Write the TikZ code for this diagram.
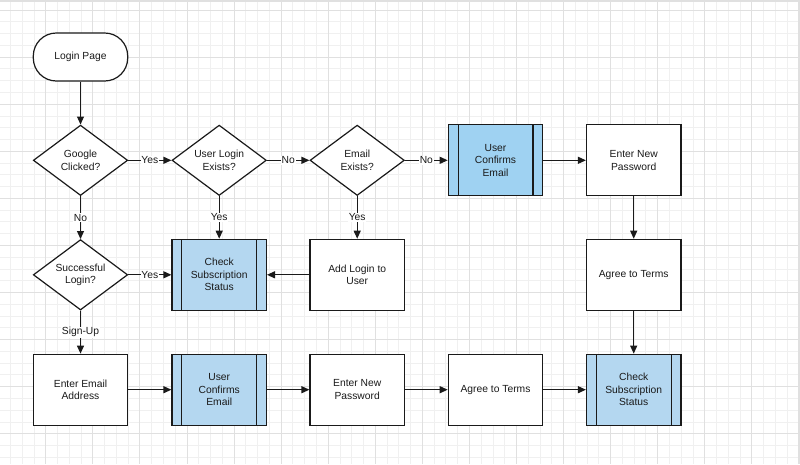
\documentclass[tikz,border=0pt]{standalone}
\usepackage{fontspec}
\setmainfont{Liberation Sans}
\usetikzlibrary{shapes.geometric,arrows.meta}
\definecolor{gridminor}{HTML}{F0F0F0}
\definecolor{gridmajor}{HTML}{E0E0E0}
\definecolor{bluetop}{HTML}{9FD2F2}
\definecolor{bluelow}{HTML}{B4D7F0}
\definecolor{ink}{HTML}{1A1A1A}
\tikzset{
  base/.style={draw=ink, line width=1.2pt, align=center, text=ink,
    font=\fontsize{10.3}{12.5}\selectfont, inner sep=0pt},
  procbox/.style={base, rectangle, minimum width=94.4pt, minimum height=71pt, fill=white},
  subproc/.style={procbox, fill=#1,
    path picture={
      \draw[ink, line width=1.2pt] ([xshift=9.8pt]path picture bounding box.north west) -- ([xshift=9.8pt]path picture bounding box.south west);
      \draw[ink, line width=1.2pt] ([xshift=-9.8pt]path picture bounding box.north east) -- ([xshift=-9.8pt]path picture bounding box.south east);
    }},
  decision/.style={base, diamond, aspect=1.34, minimum width=94.4pt, minimum height=70.4pt, fill=white},
  terminal/.style={base, rectangle, rounded corners=23pt, minimum width=94.4pt, minimum height=48pt, fill=white},
  conn/.style={draw=ink, line width=1.2pt, -{Triangle[length=8pt,width=7pt]}},
  lbl/.style={fill=white, inner sep=0.8pt, text=ink, font=\fontsize{10.3}{12}\selectfont}
}
\begin{document}
\begin{tikzpicture}[x=1pt,y=-1pt]
\useasboundingbox (0,0) rectangle (800,464);
\fill[white] (0,0) rectangle (800,464);
% grid
\foreach \i in {0,...,68} {
  \draw[gridminor, line width=0.7pt] ({-1.37+11.767*\i},0) -- ({-1.37+11.767*\i},464);
}
\foreach \i in {0,...,40} {
  \draw[gridminor, line width=0.7pt] (0,{-1.77+11.767*\i}) -- (800,{-1.77+11.767*\i});
}
\foreach \i in {0,...,16} {
  \draw[gridmajor, line width=0.8pt] ({45.7+47.07*(\i-1)},0) -- ({45.7+47.07*(\i-1)},464);
}
\foreach \i in {0,...,9} {
  \draw[gridmajor, line width=0.8pt] (0,{10+47.07*\i}) -- (800,{10+47.07*\i});
}
\draw[gridmajor, line width=1.2pt] (0,1) -- (800,1);
\draw[gridmajor, line width=1.2pt] (799,0) -- (799,464);

% nodes
\node[terminal] (login) at (80.5,57) {Login Page};
\node[decision] (gc) at (80.5,160.3) {Google\\Clicked?};
\node[decision] (ule) at (219.2,160.3) {User Login\\Exists?};
\node[decision] (ee) at (357.2,160.3) {Email\\Exists?};
\node[subproc=bluetop] (uce1) at (495.5,160.3) {User\\Confirms\\Email};
\node[procbox] (enp1) at (633.7,160.3) {Enter New\\Password};

\node[decision] (sl) at (80.5,274.8) {Successful\\Login?};
\node[subproc=bluelow] (cs2) at (219.2,274.8) {Check\\Subscription\\Status};
\node[procbox] (alu) at (357.2,274.8) {Add Login to\\User};
\node[procbox] (agt1) at (633.7,274.8) {Agree to Terms};

\node[procbox] (eea) at (80.5,389.7) {Enter Email\\Address};
\node[subproc=bluelow] (uce3) at (219.2,389.7) {User\\Confirms\\Email};
\node[procbox] (enp3) at (357.2,389.7) {Enter New\\Password};
\node[procbox] (agt3) at (495.5,389.7) {Agree to Terms};
\node[subproc=bluelow] (cs3) at (633.7,389.7) {Check\\Subscription\\Status};

% connectors
\draw[conn] (login) -- (gc);
\draw[conn] (gc) -- node[lbl] (l1) {Yes} (ule);
\draw[conn] (ule) -- node[lbl] (l2) {No} (ee);
\draw[conn] (ee) -- node[lbl] (l3) {No} (uce1);
\draw[conn] (uce1) -- (enp1);
\draw[conn] (enp1) -- (agt1);
\draw[conn] (agt1) -- (cs3);
\draw[conn] (gc) -- node[lbl] (l4) {No} (sl);
\draw[conn] (ule) -- node[lbl] (l5) {Yes} (cs2);
\draw[conn] (ee) -- node[lbl] (l6) {Yes} (alu);
\draw[conn] (alu) -- (cs2);
\draw[conn] (sl) -- node[lbl] (l7) {Yes} (cs2);
\draw[conn] (sl) -- node[lbl] (l8) {Sign-Up} (eea);
\draw[conn] (eea) -- (uce3);
\draw[conn] (uce3) -- (enp3);
\draw[conn] (enp3) -- (agt3);
\draw[conn] (agt3) -- (cs3);
\end{tikzpicture}
\end{document}
